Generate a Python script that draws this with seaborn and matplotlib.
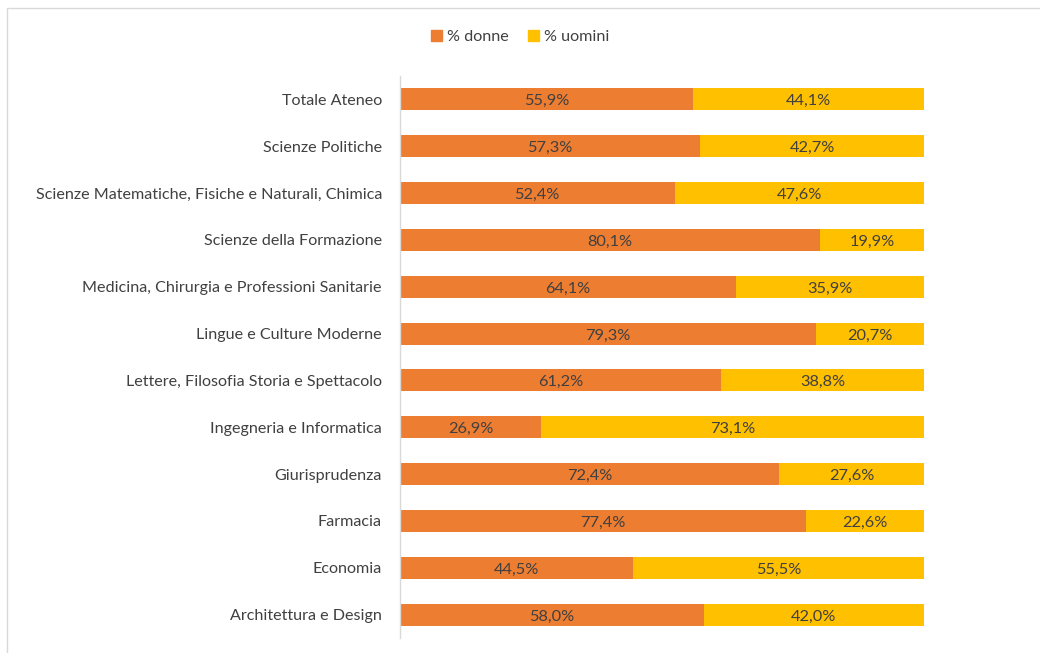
import numpy as np
import pandas as pd
import matplotlib.pyplot as plt
import seaborn as sns
from matplotlib.patches import Rectangle, Patch

# Data (top to bottom)
categorie = ['Totale Ateneo', 'Scienze Politiche',
             'Scienze Matematiche, Fisiche e Naturali, Chimica',
             'Scienze della Formazione',
             'Medicina, Chirurgia e Professioni Sanitarie',
             'Lingue e Culture Moderne',
             'Lettere, Filosofia Storia e Spettacolo',
             'Ingegneria e Informatica', 'Giurisprudenza', 'Farmacia',
             'Economia', 'Architettura e Design']
donne = [55.9, 57.3, 52.4, 80.1, 64.1, 79.3, 61.2, 26.9, 72.4, 77.4, 44.5, 58.0]
uomini = [44.1, 42.7, 47.6, 19.9, 35.9, 20.7, 38.8, 73.1, 27.6, 22.6, 55.5, 42.0]

col_donne = '#ED7D31'
col_uomini = '#FFC000'
txt = '#404040'

data = pd.DataFrame({'Facolta': categorie, 'donne': donne, 'uomini': uomini})
data['totale'] = data['donne'] + data['uomini']

sns.set_style('white')
plt.rcParams['font.family'] = ['Lato', 'DejaVu Sans']

fig = plt.figure(figsize=(10.4, 6.53), dpi=100)
ax = fig.add_axes([400 / 1040, 1 - 638 / 653, 524 / 1040, 562 / 653])

# stacked bars: full total in yellow, women on top in orange
sns.barplot(data=data, x='totale', y='Facolta', color=col_uomini, width=0.47,
            saturation=1, ax=ax, linewidth=0)
sns.barplot(data=data, x='donne', y='Facolta', color=col_donne, width=0.47,
            saturation=1, ax=ax, linewidth=0)

# value labels
for i, row in data.iterrows():
    ax.text(row['donne'] / 2, i + 0.04, f"{row['donne']:.1f}%".replace('.', ','),
            ha='center', va='center', fontsize=11.8, color=txt)
    ax.text(row['donne'] + row['uomini'] / 2, i + 0.04,
            f"{row['uomini']:.1f}%".replace('.', ','),
            ha='center', va='center', fontsize=11.8, color=txt)

ax.set_xlim(0, 100)
ax.set_ylim(11.5, -0.5)
ax.set_xlabel('')
ax.set_ylabel('')
ax.set_xticks([])
ax.tick_params(axis='y', length=0, pad=13, labelsize=11.6, labelcolor=txt)
for s in ['top', 'right', 'bottom']:
    ax.spines[s].set_visible(False)
ax.spines['left'].set_color('#D9D9D9')
ax.spines['left'].set_linewidth(1)

handles = [Patch(color=col_donne, label='% donne'),
           Patch(color=col_uomini, label='% uomini')]
fig.legend(handles=handles, loc='center', bbox_to_anchor=(0.5, 1 - 37 / 653),
           ncol=2, frameon=False, fontsize=11.6, handlelength=0.7,
           handleheight=0.7, handletextpad=0.3, columnspacing=1.2,
           labelcolor=txt)

# chart border
fig.patches.append(Rectangle((7 / 1040, -0.1), 1.2, 1 - 8 / 653 + 0.1,
                             transform=fig.transFigure, fill=False,
                             edgecolor='#D9D9D9', linewidth=1))

fig.savefig('out.png', dpi=100)
